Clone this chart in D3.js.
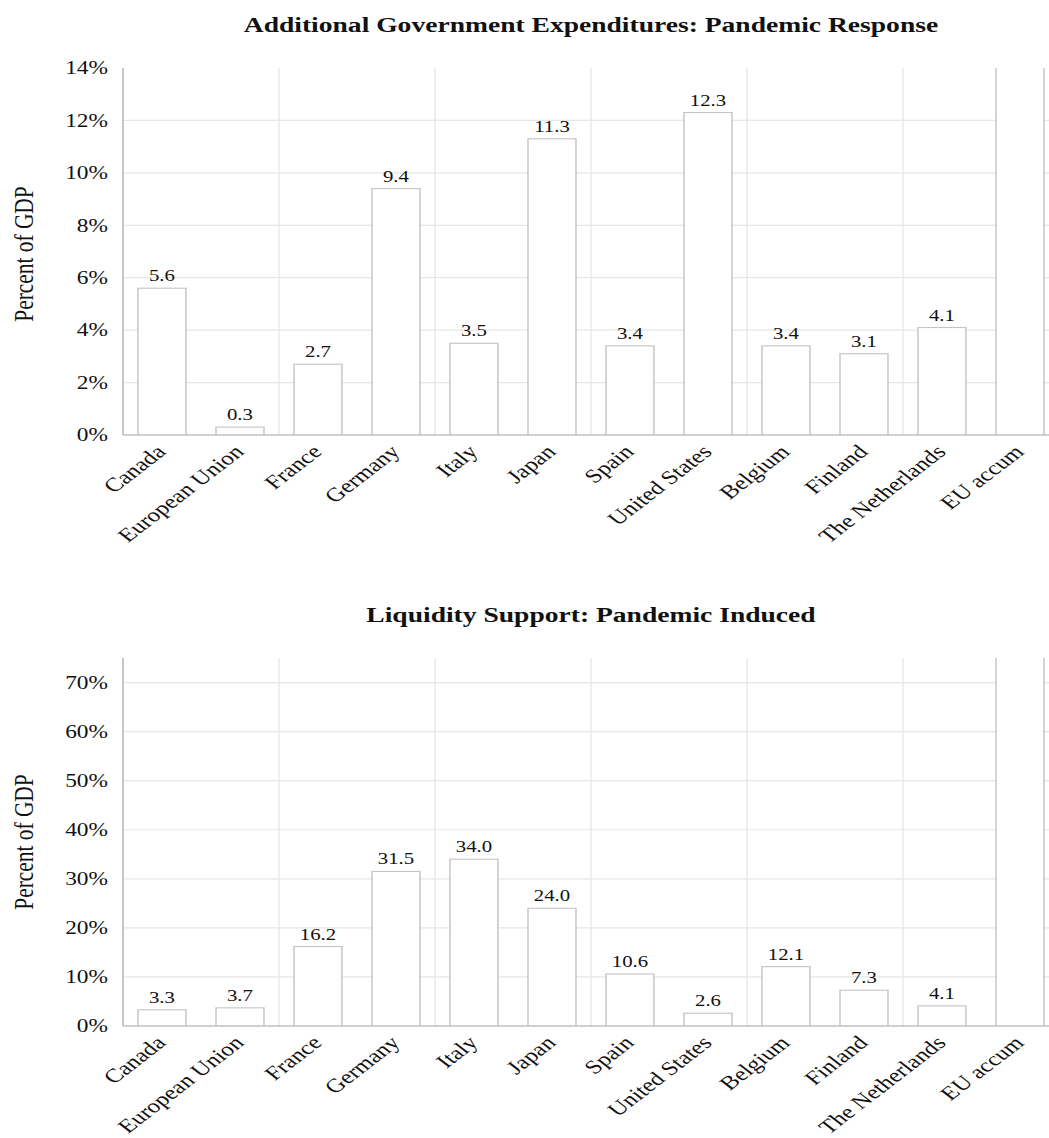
<!DOCTYPE html>
<html>
<head>
<meta charset="utf-8">
<script src="https://cdn.jsdelivr.net/npm/d3@7"></script>
<style>
  html, body { margin: 0; padding: 0; background: #fff; }
  svg { display: block; }
  text { font-family: "Liberation Serif", "Times New Roman", Times, serif; fill: #111; }
</style>
</head>
<body>
<svg id="chart" width="1049" height="1138"></svg>
<script>
// Categories shared by both panels
const categories = ["Canada", "European Union", "France", "Germany", "Italy", "Japan",
  "Spain", "United States", "Belgium", "Finland", "The Netherlands", "EU accum"];

// Additional government expenditures, percent of GDP
const expenditureValues = [5.6, 0.3, 2.7, 9.4, 3.5, 11.3, 3.4, 12.3, 3.4, 3.1, 4.1, 29.9];
// Liquidity support, percent of GDP
const liquidityValues = [3.3, 3.7, 16.2, 31.5, 34.0, 24.0, 10.6, 2.6, 12.1, 7.3, 4.1, 143.5];

// Y-axis ticks (percent)
const expenditureTicks = [0, 2, 4, 6, 8, 10, 12, 14];
const liquidityTicks = [0, 10, 20, 30, 40, 50, 60, 70];

const titles = ["Additional Government Expenditures: Pandemic Response",
                "Liquidity Support: Pandemic Induced"];
const yAxisTitle = "Percent of GDP";

// The whole figure is drawn in a horizontally widened frame
const SX = 1.3;
const plotLeft = 94.6, plotRight = plotLeft + 720;

const svg = d3.select("#chart");
const root = svg.append("g").attr("transform", `scale(${SX},1)`);

const x = d3.scaleBand()
  .domain(categories)
  .range([plotLeft, plotRight])
  .paddingInner(0.385)
  .paddingOuter(0.1925);

function drawPanel(opts, idx) {
  const { top, bottom, max, ticks, values, title, titleY, labelY } = opts;
  const g = root.append("g");
  const y = d3.scaleLinear().domain([0, max]).range([bottom, top]);

  const clipId = "clip" + idx;
  g.append("clipPath").attr("id", clipId)
    .append("rect").attr("x", plotLeft).attr("y", top)
    .attr("width", plotRight - plotLeft).attr("height", bottom - top);

  // horizontal gridlines
  g.append("g").selectAll("line")
    .data(ticks.filter(t => t > 0 && t < max))
    .join("line")
    .attr("x1", plotLeft).attr("x2", plotRight)
    .attr("y1", d => y(d)).attr("y2", d => y(d))
    .attr("stroke", "#e6e6e6").attr("stroke-width", 1.2);

  // vertical gridlines every two categories
  const vIdx = d3.range(2, categories.length + 1, 2);
  g.append("g").selectAll("line")
    .data(vIdx)
    .join("line")
    .attr("x1", i => x.range()[0] + i * x.step())
    .attr("x2", i => x.range()[0] + i * x.step())
    .attr("y1", top).attr("y2", bottom)
    .attr("stroke", "#e6e6e6").attr("stroke-width", 1);

  // bars
  g.append("g").attr("clip-path", `url(#${clipId})`)
    .selectAll("rect")
    .data(values)
    .join("rect")
    .attr("x", (d, i) => x(categories[i]))
    .attr("width", x.bandwidth())
    .attr("y", d => y(d))
    .attr("height", d => y(0) - y(d) + 0.5)
    .attr("fill", "#fff")
    .attr("stroke", "#c4c4c4")
    .attr("stroke-width", 1.1);

  // value labels
  g.append("g").selectAll("text")
    .data(values.map((v, i) => ({ v, c: categories[i] })).filter(d => d.v <= max))
    .join("text")
    .attr("x", d => x(d.c) + x.bandwidth() / 2)
    .attr("y", d => y(d.v) - 7)
    .attr("text-anchor", "middle")
    .style("font-size", "16px")
    .text(d => d.v.toFixed(1));

  // y axis
  const yAxis = g.append("g")
    .attr("transform", `translate(${plotLeft},0)`)
    .call(d3.axisLeft(y).tickValues(ticks).tickSize(0).tickPadding(11.5)
      .tickFormat(d => d + "%"));
  yAxis.select(".domain").remove();
  yAxis.selectAll("text").style("font-size", "18px")
    .attr("font-family", null).attr("fill", "#111");
  g.append("line")
    .attr("x1", plotLeft).attr("x2", plotLeft)
    .attr("y1", top).attr("y2", bottom)
    .attr("stroke", "#c0c0c0").attr("stroke-width", 1.4);

  // x axis
  const xAxis = g.append("g")
    .attr("transform", `translate(0,${bottom})`)
    .call(d3.axisBottom(x).tickSize(0).tickPadding(0));
  xAxis.select(".domain").remove();
  xAxis.selectAll("text")
    .attr("y", 0).attr("dy", 0)
    .attr("transform", "translate(4,18) rotate(-45)")
    .attr("text-anchor", "end")
    .attr("font-family", null).attr("fill", "#111")
    .style("font-size", "19.4px");
  g.append("line")
    .attr("x1", plotLeft).attr("x2", plotRight)
    .attr("y1", bottom).attr("y2", bottom)
    .attr("stroke", "#c0c0c0").attr("stroke-width", 1.4);

  // panel title
  g.append("text")
    .attr("x", (plotLeft + plotRight) / 2)
    .attr("y", titleY)
    .attr("text-anchor", "middle")
    .style("font-size", "21.2px")
    .style("font-weight", "bold")
    .text(title);

  // y-axis title
  g.append("text")
    .attr("transform", `translate(25.4,${labelY}) rotate(-90)`)
    .attr("text-anchor", "middle")
    .style("font-size", "21.4px")
    .text(yAxisTitle);
}

drawPanel({ top: 68, bottom: 435, max: 14, ticks: expenditureTicks,
  values: expenditureValues, title: titles[0], titleY: 32, labelY: 254 }, 0);
drawPanel({ top: 658, bottom: 1026, max: 75, ticks: liquidityTicks,
  values: liquidityValues, title: titles[1], titleY: 622, labelY: 842 }, 1);
</script>
</body>
</html>
